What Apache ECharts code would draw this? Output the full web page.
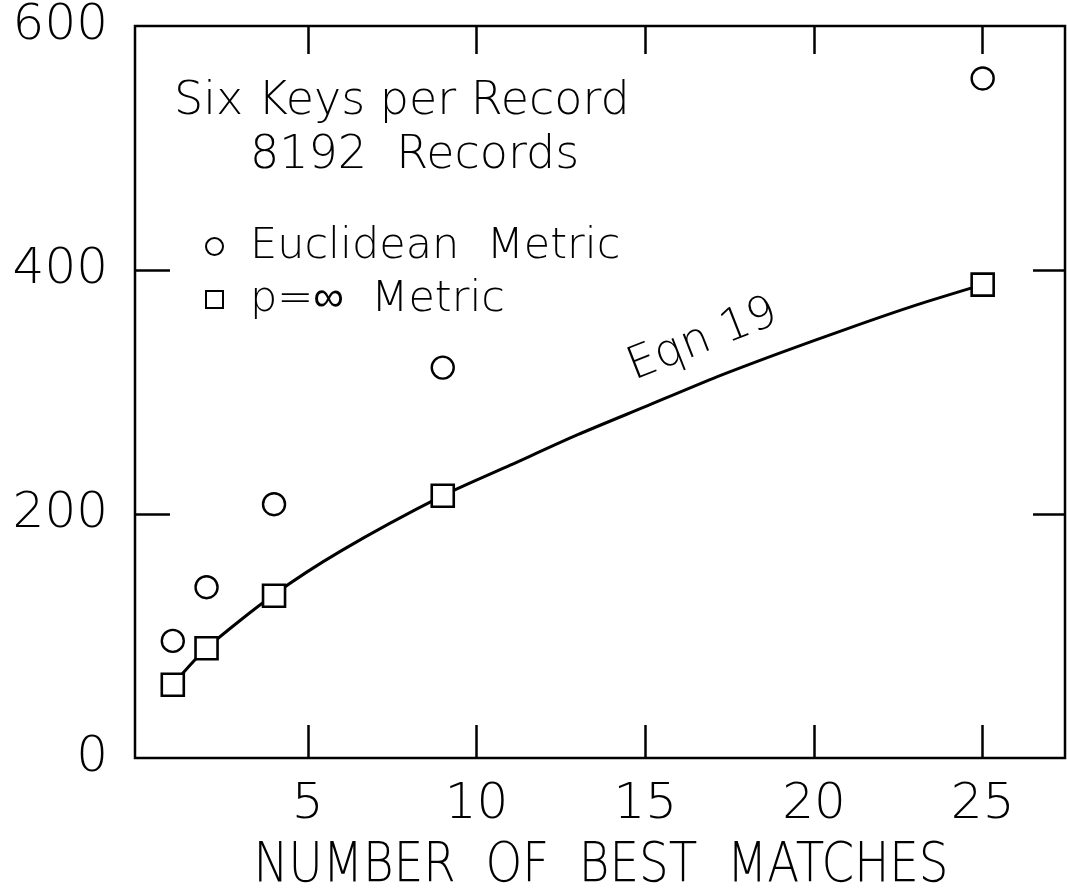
<!DOCTYPE html>
<html>
<head>
<meta charset="utf-8">
<title>Search cost vs number of best matches</title>
<script src="https://cdn.jsdelivr.net/npm/echarts@6/dist/echarts.min.js"></script>
<style>
  html, body { margin: 0; padding: 0; background: #fff; }
  #chart { width: 1067px; height: 896px; }
</style>
</head>
<body>
<div id="chart"></div>
<script>
// Number of best matches requested (x) for each measured run
const matches = [1, 2, 4, 9, 25];
// Measured values, Euclidean metric (circles)
const euclidean = [96, 140, 208, 320, 557];
// Measured values, p = infinity metric (squares)
const pInfinity = [60, 90, 133, 215, 388];
// Eqn 19 prediction, sampled along its curve
const eqnX = [1, 2, 4, 6, 9, 11, 13, 15, 17, 19, 21, 23, 25];
const eqnY = [60, 90, 134, 170, 215, 240, 265, 288, 311, 332, 352, 371, 388];
// Axis tick labels
const xTicks = [5, 10, 15, 20, 25];
const yTicks = [0, 200, 400, 600];

const FONT = '"DejaVu Sans", sans-serif';
const INK = '#000';

const chart = echarts.init(document.getElementById('chart'), null, { renderer: 'canvas' });

const pairs = (xs, ys) => xs.map((x, i) => [x, ys[i]]);

// inward-pointing ticks on every side of the frame
const tickStyle = { color: INK, width: 2.5 };

chart.setOption({
  animation: false,
  backgroundColor: '#fff',
  grid: {
    left: 135, top: 26, width: 930, height: 732,
    outerBoundsMode: 'none', containLabel: false,
    show: true, borderColor: INK, borderWidth: 2.5, backgroundColor: 'transparent'
  },
  legend: {
    data: ['Euclidean  Metric', 'p=∞  Metric'],
    orient: 'vertical',
    left: 200, top: 220,
    itemWidth: 17, itemHeight: 17, itemGap: 10,
    textStyle: { fontFamily: FONT, fontWeight: 200, fontSize: 43, color: INK, padding: [0, 0, 0, 22] }
  },
  xAxis: [{
    type: 'value', position: 'bottom',
    min: -0.12, max: 27.44,
    axisLine: { show: false, onZero: false },
    axisTick: { show: true, inside: true, length: 33, customValues: xTicks, lineStyle: tickStyle },
    axisLabel: { customValues: xTicks, margin: 22, fontFamily: FONT, fontWeight: 200, fontSize: 50, color: INK },
    splitLine: { show: false }
  }, {
    type: 'value', position: 'top',
    min: -0.12, max: 27.44,
    axisLine: { show: false, onZero: false },
    axisTick: { show: true, inside: true, length: 28, customValues: xTicks, lineStyle: tickStyle },
    axisLabel: { show: false },
    splitLine: { show: false }
  }],
  yAxis: [{
    type: 'value', position: 'left',
    min: 0, max: 600, interval: 200,
    axisLine: { show: false, onZero: false },
    axisTick: { show: true, inside: true, length: 35, customValues: [200, 400], lineStyle: tickStyle },
    axisLabel: { customValues: yTicks, margin: 27, fontFamily: FONT, fontWeight: 200, fontSize: 50, color: INK },
    splitLine: { show: false }
  }, {
    type: 'value', position: 'right',
    min: 0, max: 600, interval: 200,
    axisLine: { show: false, onZero: false },
    axisTick: { show: true, inside: true, length: 32, customValues: [200, 400], lineStyle: tickStyle },
    axisLabel: { show: false },
    splitLine: { show: false }
  }],
  series: [{
    name: 'Eqn 19', type: 'line',
    data: pairs(eqnX, eqnY),
    smooth: 0.25, showSymbol: false, symbol: 'none',
    lineStyle: { color: INK, width: 3 }, z: 2
  }, {
    name: 'Euclidean  Metric', type: 'scatter',
    data: pairs(matches, euclidean),
    symbol: 'circle', symbolSize: 22,
    itemStyle: { color: '#fff', borderColor: INK, borderWidth: 2.4, opacity: 1 }, z: 3
  }, {
    name: 'p=∞  Metric', type: 'scatter',
    data: pairs(matches, pInfinity),
    symbol: 'rect', symbolSize: 22,
    itemStyle: { color: '#fff', borderColor: INK, borderWidth: 2.6, opacity: 1 }, z: 4
  }],
  graphic: [{
    type: 'text', left: 174, top: 79,
    style: { text: 'Six Keys per Record', fontFamily: FONT, fontWeight: 200, fontSize: 46, fill: INK }
  }, {
    type: 'text', left: 250, top: 133,
    style: { text: '8192  Records', fontFamily: FONT, fontWeight: 200, fontSize: 46, fill: INK }
  }, {
    type: 'text', x: 638, y: 390, rotation: 21.5 * Math.PI / 180,
    style: { text: 'Eqn 19', fontFamily: FONT, fontWeight: 200, fontSize: 45, fill: INK, verticalAlign: 'bottom', align: 'left' }
  }, {
    // x-axis title, set in narrow lettering
    type: 'text', x: 601, y: 866, scaleX: 0.835,
    style: { text: 'NUMBER  OF  BEST  MATCHES', fontFamily: FONT, fontWeight: 200, fontSize: 56, fill: INK, align: 'center', verticalAlign: 'middle' }
  }]
});
</script>
</body>
</html>
